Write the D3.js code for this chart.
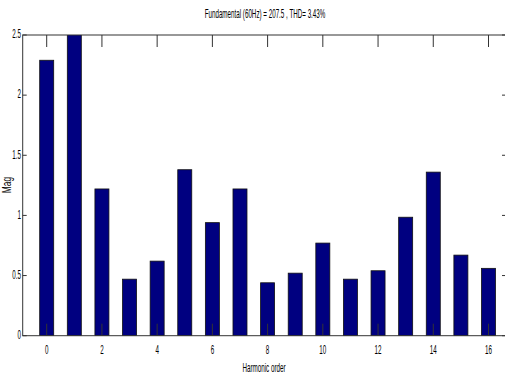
<!DOCTYPE html>
<html><head><meta charset="utf-8">
<script src="https://cdn.jsdelivr.net/npm/d3@7"></script>
<style>body{margin:0;background:#fff}svg{display:block}text{font-family:"Liberation Sans",Arial,sans-serif;fill:#000}</style>
</head><body>
<svg id="c" width="505" height="377"></svg>
<script>
const harmonics = [0,1,2,3,4,5,6,7,8,9,10,11,12,13,14,15,16];
const magnitudes = [2.29,2.56,1.22,0.47,0.62,1.38,0.94,1.22,0.44,0.52,0.77,0.47,0.54,0.985,1.36,0.67,0.56];
const xTicks = [0,2,4,6,8,10,12,14,16];
const yTicks = [0,0.5,1,1.5,2,2.5];
const titleText = "Fundamental (60Hz) = 207.5 , THD= 3.43%";
const xLabel = "Harmonic order";
const yLabel = "Mag";

(function(){
const svg = d3.select("#c");
const pL = 22.7, pR = 506, pT = 35, pB = 335.7;
const x = d3.scaleLinear().domain([0,16]).range([46.7,488.5]);
const y = d3.scaleLinear().domain([0,2.5]).range([pB, pT]);
const bw = 0.507*(x(1)-x(0));

svg.append("clipPath").attr("id","clip").append("rect")
  .attr("x",pL).attr("y",pT).attr("width",pR-pL).attr("height",pB-pT);

svg.append("g").attr("clip-path","url(#clip)").selectAll("rect").data(harmonics).join("rect")
  .attr("x",d=>x(d)-bw/2).attr("width",bw)
  .attr("y",(d,i)=>y(magnitudes[i])).attr("height",(d,i)=>y(0)-y(magnitudes[i]))
  .attr("fill","#000080").attr("stroke","#111").attr("stroke-width",0.8);

const ax = svg.append("g").attr("stroke","#333").attr("stroke-width",1).attr("fill","none");
ax.append("rect").attr("x",pL).attr("y",pT).attr("width",pR-pL).attr("height",pB-pT);
xTicks.forEach(t=>{
  ax.append("line").attr("x1",x(t)).attr("x2",x(t)).attr("y1",pT).attr("y2",pT+12);
  ax.append("line").attr("x1",x(t)).attr("x2",x(t)).attr("y1",pB).attr("y2",pB-12);
});
yTicks.forEach(t=>{
  ax.append("line").attr("x1",pL).attr("x2",pL+4).attr("y1",y(t)).attr("y2",y(t));
  ax.append("line").attr("x1",pR).attr("x2",pR-4).attr("y1",y(t)).attr("y2",y(t));
});

const sx = 0.5;
function ctext(txt, cx, cy, size, anchor){
  const g = svg.append("g").attr("transform",`translate(${cx},${cy}) scale(${sx},1)`);
  g.append("text").attr("text-anchor",anchor||"middle").attr("dominant-baseline","middle")
   .attr("font-size",size).text(txt);
  return g;
}
xTicks.forEach(t=>ctext(String(t), x(t), 351, 12.5));
yTicks.forEach(t=>ctext(String(t), 21, y(t), 12.5, "end"));
ctext(titleText, 265, 15, 12.5);
ctext(xLabel, 264, 369, 12.5);
svg.append("g").attr("transform",`translate(8,185) rotate(-90) scale(0.7,1)`)
  .append("text").attr("text-anchor","middle").attr("dominant-baseline","middle").attr("font-size",12).text(yLabel);
})();
</script>
</body></html>
